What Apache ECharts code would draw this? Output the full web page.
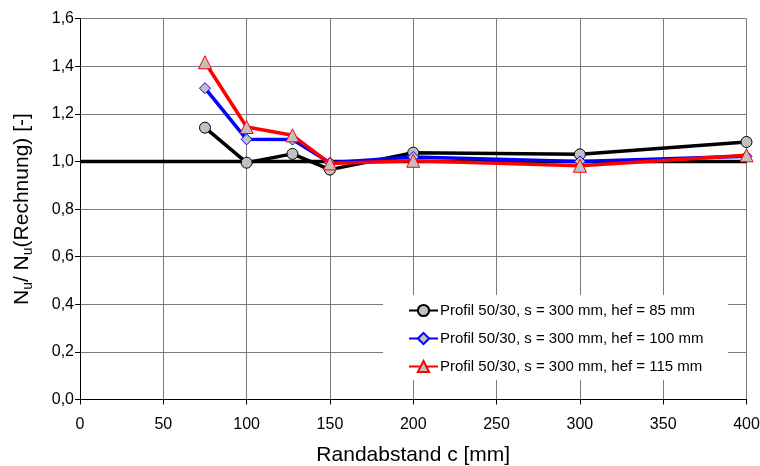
<!DOCTYPE html>
<html>
<head>
<meta charset="utf-8">
<script src="https://cdn.jsdelivr.net/npm/echarts@6/dist/echarts.min.js"></script>
<style>
html,body{margin:0;padding:0;background:#fff;}
#chart{width:760px;height:466px;}
</style>
</head>
<body>
<div id="chart"></div>
<script>
// Randabstand c [mm]
const edgeDist = [75, 100, 127.5, 150, 200, 300, 400];
// Nu / Nu(Rechnung) per anchorage depth
const hef85  = [1.142, 0.995, 1.032, 0.966, 1.037, 1.030, 1.082];
const hef100 = [1.308, 1.093, 1.092, 0.995, 1.019, 1.000, 1.022];
const hef115 = [1.417, 1.145, 1.110, 0.992, 1.003, 0.982, 1.026];
const seriesNames = [
  'Profil 50/30, s = 300 mm, hef = 85 mm',
  'Profil 50/30, s = 300 mm, hef = 100 mm',
  'Profil 50/30, s = 300 mm, hef = 115 mm'
];
// reference ratio 1,0 over the whole range
const refX = [0, 400];
const refY = [1, 1];

const pairs = (xs, ys) => xs.map((x, i) => [x, ys[i]]);
const font = 'Liberation Sans, Arial, sans-serif';
const grey = '#c0c0c0';
const gridColor = '#7a7a7a';

const chart = echarts.init(document.getElementById('chart'), null, {renderer: 'canvas'});
chart.setOption({
  animation: false,
  backgroundColor: '#fff',
  textStyle: {fontFamily: font},
  grid: {left: 80, right: 13.5, top: 18.7, bottom: 66.5, containLabel: false, outerBoundsMode: 'none'},
  xAxis: {
    type: 'value', min: 0, max: 400, interval: 50,
    name: 'Randabstand c [mm]', nameLocation: 'middle', nameGap: 45.5,
    nameTextStyle: {fontSize: 21, color: '#000', fontFamily: font},
    axisLine: {show: true, onZero: false, lineStyle: {color: '#000', width: 1}},
    axisTick: {show: true, inside: false, length: 5, lineStyle: {color: '#000'}},
    axisLabel: {fontSize: 16, color: '#000', margin: 17, fontFamily: font},
    splitLine: {show: true, lineStyle: {color: gridColor, width: 1}}
  },
  yAxis: {
    type: 'value', min: 0, max: 1.6, interval: 0.2,
    name: 'N{s|u}/ N{s|u}(Rechnung) [-]', nameLocation: 'middle', nameGap: 45,
    nameTextStyle: {
      fontSize: 21, color: '#000', fontFamily: font,
      rich: {s: {fontSize: 14, color: '#000', fontFamily: font, padding: [11, 0, 0, 0]}}
    },
    axisLine: {show: true, lineStyle: {color: '#000', width: 1}},
    axisTick: {show: true, inside: false, length: 5, lineStyle: {color: '#000'}},
    axisLabel: {fontSize: 16, color: '#000', margin: 6, fontFamily: font,
      formatter: v => v.toFixed(1).replace('.', ',')},
    splitLine: {show: true, lineStyle: {color: gridColor, width: 1}}
  },
  graphic: [{
    type: 'rect', z: 1, silent: true,
    shape: {x: 383, y: 295, width: 345, height: 85},
    style: {fill: '#fff'}
  }],
  legend: {
    data: seriesNames,
    orient: 'vertical', left: 408, top: 303,
    itemWidth: 29, itemHeight: 14, itemGap: 13,
    textStyle: {fontSize: 15, color: '#000', fontFamily: font, padding: [0, 0, 0, -3]},
    padding: 0
  },
  series: [
    {
      name: 'ref', type: 'line', data: pairs(refX, refY), showSymbol: false, symbol: 'none',
      lineStyle: {color: '#000', width: 3.5}, z: 2, silent: true
    },
    {
      name: seriesNames[0], type: 'line', data: pairs(edgeDist, hef85),
      symbol: 'circle', symbolSize: 11, showSymbol: true,
      lineStyle: {color: '#000', width: 3.5},
      itemStyle: {color: grey, borderColor: '#000', borderWidth: 1},
      z: 3
    },
    {
      name: seriesNames[1], type: 'line', data: pairs(edgeDist, hef100),
      symbol: 'diamond', symbolSize: 11, showSymbol: true,
      lineStyle: {color: '#0000ff', width: 3.5},
      itemStyle: {color: grey, borderColor: '#0000ff', borderWidth: 1},
      z: 4
    },
    {
      name: seriesNames[2], type: 'line', data: pairs(edgeDist, hef115),
      symbol: 'triangle', symbolSize: 13, showSymbol: true,
      lineStyle: {color: '#ff0000', width: 3.5},
      itemStyle: {color: grey, borderColor: '#ff0000', borderWidth: 1},
      z: 5
    }
  ]
});
</script>
</body>
</html>
